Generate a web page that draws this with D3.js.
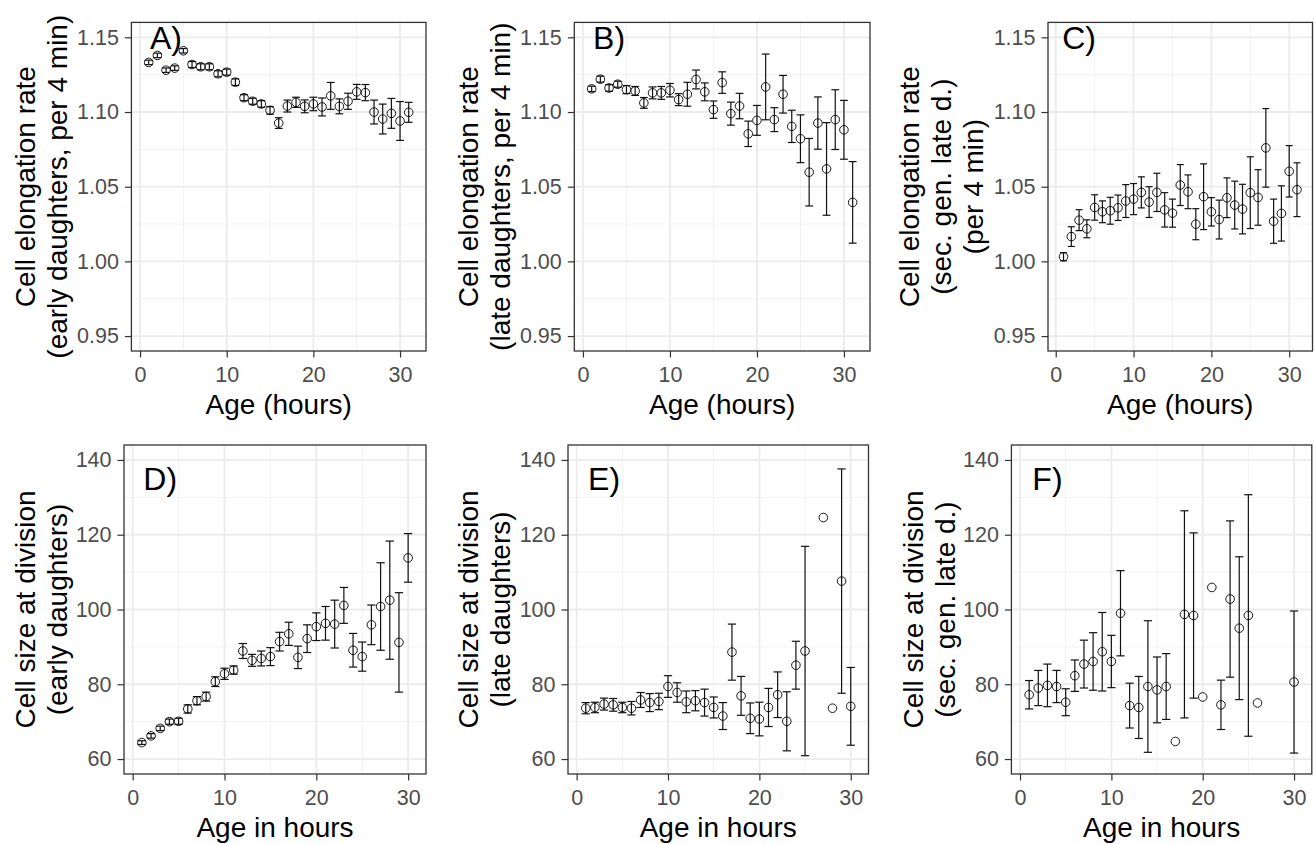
<!DOCTYPE html>
<html>
<head>
<meta charset="utf-8">
<script src="https://cdn.jsdelivr.net/npm/d3@7"></script>
<style>
  body { margin: 0; background: #fff; }
  svg { display: block; font-family: "Liberation Sans", Arial, sans-serif; }
</style>
</head>
<body>
<svg id="chart" width="1315" height="844"></svg>
<script>
// Data (mean and half-width of error bar)
const agesTop = [1,2,3,4,5,6,7,8,9,10,11,12,13,14,15,16,17,18,19,20,21,22,23,24,25,26,27,28,29,30,31];

const valA = [1.1332,1.1379,1.128,1.1294,1.141,1.1318,1.1303,1.1303,1.1256,1.1267,1.120,1.1096,1.1072,1.1054,1.1011,1.0926,1.104,1.1065,1.1038,1.1054,1.1034,1.1108,1.1038,1.1072,1.1135,1.113,1.100,1.0953,1.0991,1.094,1.0998];
const errA = [0.0015,0.0015,0.0015,0.0015,0.0015,0.002,0.002,0.002,0.002,0.002,0.0022,0.002,0.002,0.0022,0.0025,0.0036,0.004,0.0034,0.0043,0.0045,0.006,0.009,0.005,0.0054,0.005,0.0054,0.008,0.01,0.01,0.013,0.0067];

const valB = [1.1155,1.122,1.1161,1.1186,1.115,1.1141,1.1061,1.1128,1.1128,1.1146,1.1083,1.1119,1.1218,1.1135,1.1016,1.1197,1.0989,1.104,1.0854,1.0944,1.1168,1.0949,1.1119,1.0904,1.0821,1.0597,1.0926,1.0619,1.0949,1.0881,1.0395];
const errB = [0.0018,0.002,0.0022,0.002,0.0027,0.003,0.0036,0.004,0.0043,0.0045,0.004,0.008,0.0063,0.006,0.0058,0.0072,0.0077,0.0085,0.0085,0.01,0.022,0.008,0.0126,0.0108,0.016,0.0226,0.0175,0.031,0.020,0.0197,0.0273];

const valC = [1.0031,1.0166,1.0276,1.0218,1.0361,1.0332,1.0339,1.0359,1.0404,1.0417,1.0462,1.0397,1.0462,1.0345,1.0323,1.0511,1.0466,1.0249,1.0433,1.0332,1.028,1.0426,1.0377,1.035,1.046,1.0428,1.076,1.0269,1.0321,1.0603,1.048];
const errC = [0.0027,0.0066,0.007,0.006,0.0085,0.0073,0.009,0.0085,0.011,0.0104,0.0104,0.0103,0.0128,0.0115,0.0094,0.0137,0.0113,0.0104,0.022,0.0095,0.013,0.0133,0.016,0.0166,0.024,0.0186,0.0263,0.0148,0.0185,0.0172,0.018];

const ageD = [1,2,3,4,5,6,7,8,9,10,11,12,13,14,15,16,17,18,19,20,21,22,23,24,25,26,27,28,29,30];
const valD = [64.4,66.2,68.2,70.0,70.1,73.4,75.6,76.7,80.7,82.8,83.8,88.9,86.4,86.9,87.4,91.4,93.5,87.2,92.2,95.4,96.3,96.1,101.1,89.1,87.4,95.9,100.8,102.5,91.2,113.8];
const errD = [0.5,0.6,0.6,0.7,0.8,1.1,1.1,1.2,1.3,1.5,1.1,2.0,1.6,2.0,2.4,2.5,3.1,3.0,3.7,3.7,4.5,6.4,4.8,4.5,3.9,5.3,11.7,15.8,13.3,6.5];

const ageE = [1,2,3,4,5,6,7,8,9,10,11,12,13,14,15,16,17,18,19,20,21,22,23,24,25,27,28,29,30];
const valE = [73.6,73.8,74.7,74.5,73.8,73.6,75.8,75.1,75.4,79.4,77.8,75.3,75.6,75.1,73.8,71.5,88.6,76.9,70.9,70.7,73.8,77.2,70.1,85.1,88.9,124.6,73.6,107.6,74.1];
const errE = [1.5,1.4,1.6,1.7,1.4,1.8,2.0,2.4,2.2,2.9,2.6,2.9,2.7,3.6,2.8,3.6,7.5,5.2,4.1,4.5,5.1,6.1,7.9,6.4,28,null,null,30,10.4];

const ageF = [1,2,3,4,5,6,7,8,9,10,11,12,13,14,15,16,17,18,19,20,21,22,23,24,25,26,30];
const valF = [77.2,79.0,79.7,79.4,75.2,82.3,85.4,86.1,88.7,86.1,99.0,74.3,73.8,79.4,78.5,79.4,64.7,98.7,98.4,76.6,105.9,74.5,102.8,95.0,98.4,75.0,80.6];
const errF = [3.8,4.7,5.7,4.3,3.6,4.2,6.4,7.7,10.5,7.0,11.4,6.0,8.3,17.6,8.8,8.8,null,27.7,22.1,null,null,6.6,20.9,19.1,32.3,null,19.0];

// Tick labels
const xTicks = [0, 10, 20, 30];
const xMinor = [5, 15, 25];
const yTicksTop = [0.95, 1.00, 1.05, 1.10, 1.15];
const yMinorTop = [0.975, 1.025, 1.075, 1.125];
const yTicksBottom = [60, 80, 100, 120, 140];
const yMinorBottom = [70, 90, 110, 130];

// Layout of the six panels
const rows = [
  { ticks: yTicksTop, minor: yMinorTop, lim: [0.95, 1.15], range: [351, 22.4], fmt: d3.format(".2f"),
    xtitle: "Age (hours)", labelY: 1.15 },
  { ticks: yTicksBottom, minor: yMinorBottom, lim: [60, 140], range: [774, 445], fmt: d3.format("d"),
    xtitle: "Age in hours", labelY: 135 }
];

const panels = [
  { tag: "A)", row: 0, ages: agesTop, vals: valA, errs: errA, x0: 131.4, x1: 426,
    ytitle: ["Cell elongation rate", "(early daughters, per 4 min)"], ytx: [25, 57] },
  { tag: "B)", row: 0, ages: agesTop, vals: valB, errs: errB, x0: 574.3, x1: 870,
    ytitle: ["Cell elongation rate", "(late daughters, per 4 min)"], ytx: [468, 500] },
  { tag: "C)", row: 0, ages: agesTop, vals: valC, errs: errC, x0: 1048, x1: 1312.5,
    ytitle: ["Cell elongation rate", "(sec. gen. late d.)", "(per 4 min)"], ytx: [909, 941, 973] },
  { tag: "D)", row: 1, ages: ageD, vals: valD, errs: errD, x0: 124, x1: 426,
    ytitle: ["Cell size at division", "(early daughters)"], ytx: [25, 57] },
  { tag: "E)", row: 1, ages: ageE, vals: valE, errs: errE, x0: 568, x1: 868.5,
    ytitle: ["Cell size at division", "(late daughters)"], ytx: [468, 500] },
  { tag: "F)", row: 1, ages: ageF, vals: valF, errs: errF, x0: 1011.4, x1: 1311.8,
    ytitle: ["Cell size at division", "(sec. gen. late d.)"], ytx: [913, 945] }
];

const capWidth = 0.9;  // error bar width in x units

const svg = d3.select("#chart");

panels.forEach(p => {
  const r = rows[p.row];

  // ggplot style 5% expansion
  const xe = d3.extent(p.ages);
  const xlo = xe[0] - capWidth / 2, xhi = xe[1] + capWidth / 2;
  const xpad = (xhi - xlo) * 0.05;
  const x = d3.scaleLinear().domain([xlo - xpad, xhi + xpad]).range([p.x0, p.x1]);

  const ypad = (r.lim[1] - r.lim[0]) * 0.05;
  const y = d3.scaleLinear().domain([r.lim[0] - ypad, r.lim[1] + ypad]).range(r.range);

  const top = r.range[1], bottom = r.range[0];
  const g = svg.append("g");

  // grid
  g.append("g").selectAll("line")
    .data(xMinor)
    .join("line")
      .attr("x1", d => x(d)).attr("x2", d => x(d))
      .attr("y1", top).attr("y2", bottom)
      .attr("stroke", "#f2f2f2").attr("stroke-width", 1);
  g.append("g").selectAll("line")
    .data(r.minor)
    .join("line")
      .attr("x1", p.x0).attr("x2", p.x1)
      .attr("y1", d => y(d)).attr("y2", d => y(d))
      .attr("stroke", "#f2f2f2").attr("stroke-width", 1);
  g.append("g").selectAll("line")
    .data(xTicks)
    .join("line")
      .attr("x1", d => x(d)).attr("x2", d => x(d))
      .attr("y1", top).attr("y2", bottom)
      .attr("stroke", "#ebebeb").attr("stroke-width", 1.8);
  g.append("g").selectAll("line")
    .data(r.ticks)
    .join("line")
      .attr("x1", p.x0).attr("x2", p.x1)
      .attr("y1", d => y(d)).attr("y2", d => y(d))
      .attr("stroke", "#ebebeb").attr("stroke-width", 1.8);

  // error bars
  const pts = p.ages.map((a, i) => ({ age: a, val: p.vals[i], err: p.errs[i] }));
  const bars = g.append("g")
      .attr("stroke", "#111")
      .attr("stroke-width", 1.2)
    .selectAll("g")
    .data(pts.filter(d => d.err != null))
    .join("g");
  bars.append("line")
      .attr("x1", d => x(d.age)).attr("x2", d => x(d.age))
      .attr("y1", d => y(d.val - d.err)).attr("y2", d => y(d.val + d.err));
  bars.append("line")
      .attr("x1", d => x(d.age - capWidth / 2)).attr("x2", d => x(d.age + capWidth / 2))
      .attr("y1", d => y(d.val + d.err)).attr("y2", d => y(d.val + d.err));
  bars.append("line")
      .attr("x1", d => x(d.age - capWidth / 2)).attr("x2", d => x(d.age + capWidth / 2))
      .attr("y1", d => y(d.val - d.err)).attr("y2", d => y(d.val - d.err));

  // points
  g.append("g").selectAll("circle")
    .data(pts)
    .join("circle")
      .attr("cx", d => x(d.age))
      .attr("cy", d => y(d.val))
      .attr("r", 4.3)
      .attr("fill", "none")
      .attr("stroke", "#000")
      .attr("stroke-width", 0.9);

  // panel border
  g.append("rect")
      .attr("x", p.x0).attr("y", top)
      .attr("width", p.x1 - p.x0).attr("height", bottom - top)
      .attr("fill", "none")
      .attr("stroke", "#333")
      .attr("stroke-width", 1.3);

  // axes
  const xAxis = g.append("g")
      .attr("transform", `translate(0,${bottom})`)
      .call(d3.axisBottom(x).tickValues(xTicks).tickSize(6.5).tickPadding(9));
  xAxis.select(".domain").remove();
  xAxis.selectAll("line").attr("stroke", "#333").attr("stroke-width", 1.2);
  xAxis.selectAll("text")
      .attr("fill", "#4d4d4d")
      .attr("font-size", 21.5)
      .attr("font-family", "Liberation Sans, Arial, sans-serif");

  const yAxis = g.append("g")
      .attr("transform", `translate(${p.x0},0)`)
      .call(d3.axisLeft(y).tickValues(r.ticks).tickFormat(r.fmt).tickSize(6.5).tickPadding(6));
  yAxis.select(".domain").remove();
  yAxis.selectAll("line").attr("stroke", "#333").attr("stroke-width", 1.2);
  yAxis.selectAll("text")
      .attr("fill", "#4d4d4d")
      .attr("font-size", 21.5)
      .attr("font-family", "Liberation Sans, Arial, sans-serif");

  // panel tag
  g.append("text")
      .attr("x", x(3))
      .attr("y", y(r.labelY) + 11.5)
      .attr("text-anchor", "middle")
      .attr("font-size", 32)
      .attr("fill", "#000")
      .text(p.tag);

  // x title
  g.append("text")
      .attr("x", (p.x0 + p.x1) / 2)
      .attr("y", bottom + 63)
      .attr("text-anchor", "middle")
      .attr("font-size", 28)
      .attr("fill", "#000")
      .text(r.xtitle);

  // y title lines
  const cy = (top + bottom) / 2;
  p.ytitle.forEach((t, i) => {
    g.append("text")
        .attr("transform", `translate(${p.ytx[i]},${cy}) rotate(-90)`)
        .attr("dy", "0.35em")
        .attr("text-anchor", "middle")
        .attr("font-size", 28)
        .attr("fill", "#000")
        .text(t);
  });
});
</script>
</body>
</html>
